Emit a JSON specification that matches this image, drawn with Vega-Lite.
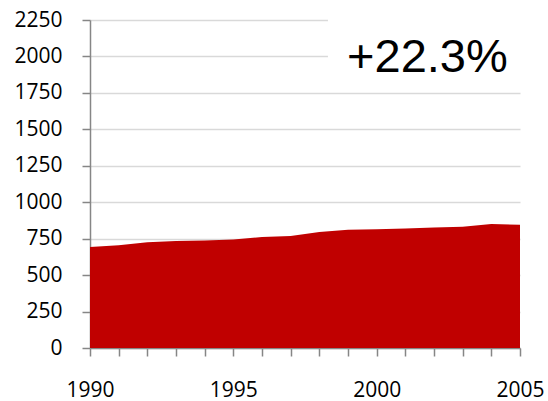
{
  "$schema": "https://vega.github.io/schema/vega-lite/v6.json",
  "width": 430,
  "height": 328,
  "autosize": {"type": "none"},
  "padding": {"left": 90, "top": 20, "right": 28, "bottom": 53},
  "background": "white",
  "config": {
    "view": {"stroke": null},
    "axis": {
      "title": null,
      "labelFont": "Open Sans", "labelFontSize": 21, "labelFontWeight": 400, "labelColor": "#000000",
      "labelPadding": 20, "labelFlush": false, "labelOverlap": false, "labelBound": false,
      "domainColor": "#868686", "domainWidth": 1.5,
      "tickColor": "#868686", "tickSize": 8, "tickWidth": 1.5
    },
    "axisX": {"grid": false, "labelPadding": 23},
    "axisY": {"grid": true, "gridColor": "#d9d9d9", "gridWidth": 1.5}
  },
  "layer": [
    {
      "data": {"values": [
        {"year": 1990, "value": 693},
        {"year": 1991, "value": 704},
        {"year": 1992, "value": 725},
        {"year": 1993, "value": 734},
        {"year": 1994, "value": 738},
        {"year": 1995, "value": 745},
        {"year": 1996, "value": 761},
        {"year": 1997, "value": 768},
        {"year": 1998, "value": 795},
        {"year": 1999, "value": 811},
        {"year": 2000, "value": 814},
        {"year": 2001, "value": 820},
        {"year": 2002, "value": 827},
        {"year": 2003, "value": 831},
        {"year": 2004, "value": 850},
        {"year": 2005, "value": 846}
      ]},
      "mark": {"type": "area", "color": "#c00000", "interpolate": "linear"},
      "encoding": {
        "x": {
          "field": "year", "type": "quantitative",
          "scale": {"domain": [1990, 2005], "nice": false, "zero": false},
          "axis": {
            "values": [1990,1991,1992,1993,1994,1995,1996,1997,1998,1999,2000,2001,2002,2003,2004,2005],
            "format": "d",
            "labelExpr": "datum.value % 5 === 0 ? datum.label : ''"
          }
        },
        "y": {
          "field": "value", "type": "quantitative",
          "scale": {"domain": [0, 2250], "nice": false},
          "axis": {
            "values": [0,250,500,750,1000,1250,1500,1750,2000,2250],
            "format": "d"
          }
        }
      }
    },
    {
      "data": {"values": [{}]},
      "mark": {"type": "rect", "color": "white"},
      "encoding": {
        "x": {"datum": 1998.3, "type": "quantitative",
          "axis": {
            "values": [1990,1991,1992,1993,1994,1995,1996,1997,1998,1999,2000,2001,2002,2003,2004,2005],
            "format": "d",
            "labelExpr": "datum.value % 5 === 0 ? datum.label : ''"
          }},
        "x2": {"datum": 2005.5},
        "y": {"datum": 1820, "type": "quantitative",
          "axis": {
            "values": [0,250,500,750,1000,1250,1500,1750,2000,2250],
            "format": "d"
          }},
        "y2": {"datum": 2320}
      }
    },
    {
      "data": {"values": [{}]},
      "mark": {"type": "text", "text": "+22.3%", "font": "Liberation Sans", "fontSize": 47, "color": "#000000", "align": "center", "baseline": "alphabetic"},
      "encoding": {
        "x": {"datum": 2001.77, "type": "quantitative",
          "axis": {
            "values": [1990,1991,1992,1993,1994,1995,1996,1997,1998,1999,2000,2001,2002,2003,2004,2005],
            "format": "d",
            "labelExpr": "datum.value % 5 === 0 ? datum.label : ''"
          }},
        "y": {"datum": 1893, "type": "quantitative",
          "axis": {
            "values": [0,250,500,750,1000,1250,1500,1750,2000,2250],
            "format": "d"
          }}
      }
    }
  ]
}
